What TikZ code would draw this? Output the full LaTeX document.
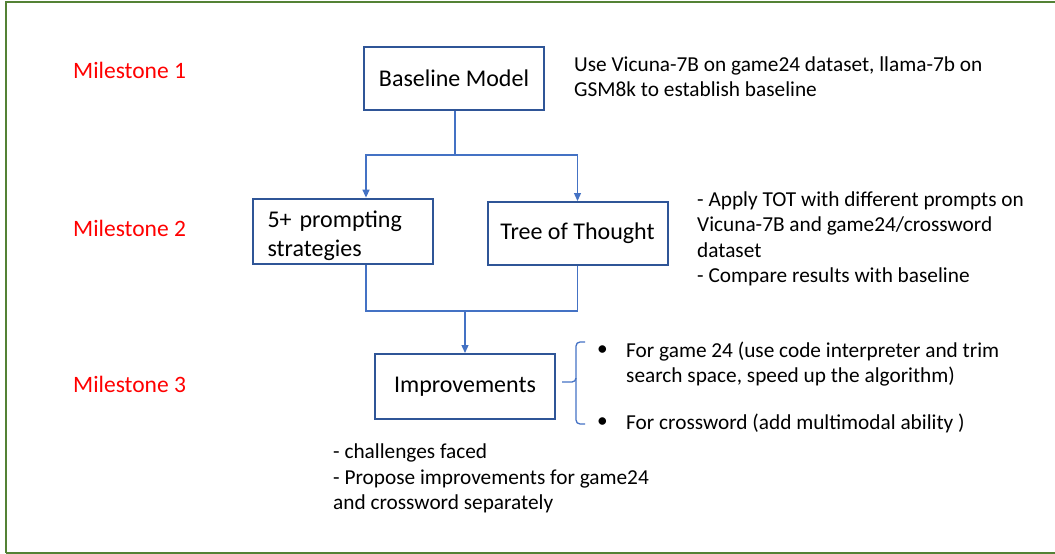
\documentclass[tikz,border=0pt]{standalone}
\usepackage{fontspec}
\setmainfont{Carlito}
\usetikzlibrary{arrows.meta}

\definecolor{framegreen}{RGB}{84,130,53}
\definecolor{boxblue}{RGB}{47,85,151}
\definecolor{linkblue}{RGB}{68,114,196}

\begin{document}
\begin{tikzpicture}[%
      x=1pt, y=-1pt,
      box/.style={draw=boxblue, line width=2pt, minimum width=180pt, minimum height=63pt,
                  font=\fontsize{24}{29}\selectfont},
      link/.style={color=linkblue, line width=1.3pt},
      linkarrow/.style={link, -{Triangle[length=8pt,width=7pt]}},
      milestone/.style={anchor=west, inner sep=0pt, text=red, font=\fontsize{23.5}{28}\selectfont},
      note/.style={anchor=west, inner sep=0pt, align=left, font=\fontsize{21.3}{25.5}\selectfont},
      ]
      \useasboundingbox (0,0) rectangle (1055,554);
      % frame
      \draw [color=framegreen, line width=2.5pt] (1055,2) -- (6,2) -- (6,553);
      \draw [color=framegreen, line width=1.5pt] (6,553) -- (1055,553);

      \node [milestone] (ms1) at (73,70) {Milestone 1};
      \node [milestone] (ms2) at (73,228) {Milestone 2};
      \node [milestone] (ms3) at (73,384) {Milestone 3};

      \node [box] (base) at (454,78.5) {Baseline Model};
      \node [box, minimum height=65pt, align=left, text width=150pt] (prompt) at (342.5,231.5)
            {\rule{0pt}{26pt}5+ prompting\\strategies};
      \node [box] (tot) at (577.5,233.5) {Tree of Thought};
      \node [box, minimum height=65pt] (imp) at (465,386.5) {Improvements};

      \coordinate (split) at (455,155);
      \coordinate (merge) at (465,311);

      \draw [link] (base.south -| split) -- (split);
      \draw [linkarrow] (split) -| ([xshift=23.5pt]prompt.north);
      \draw [linkarrow] (split) -| (tot.north);
      \draw [link] ([xshift=23.5pt]prompt.south) |- (merge) -| (tot.south);
      \draw [linkarrow] (merge) -- (imp.north);

      % brace
      \draw [link, rounded corners=4pt] (585,342) -- (576,342) -- (576,382) -- (562,382);
      \draw [link, rounded corners=4pt] (576,378) -- (576,424) -- (585,424);

      \node [note] (n1) at (574,76.5) {Use Vicuna-7B on game24 dataset, llama-7b on\\GSM8k to establish baseline};
      \node [note] (n2) at (697,239) {- Apply TOT with different prompts on\\Vicuna-7B and game24/crossword\\dataset\\- Compare results with baseline};
      \node [note] (b1) at (597,351) {•};
      \node [note] (n3) at (626,364) {For game 24 (use code interpreter and trim\\search space, speed up the algorithm)};
      \node [note] (b2) at (597,423) {•};
      \node [note] (n4) at (626,423) {For crossword (add multimodal ability )};
      \node [note] (n5) at (333,478.5) {- challenges faced\\- Propose improvements for game24\\and crossword separately};
\end{tikzpicture}
\end{document}
